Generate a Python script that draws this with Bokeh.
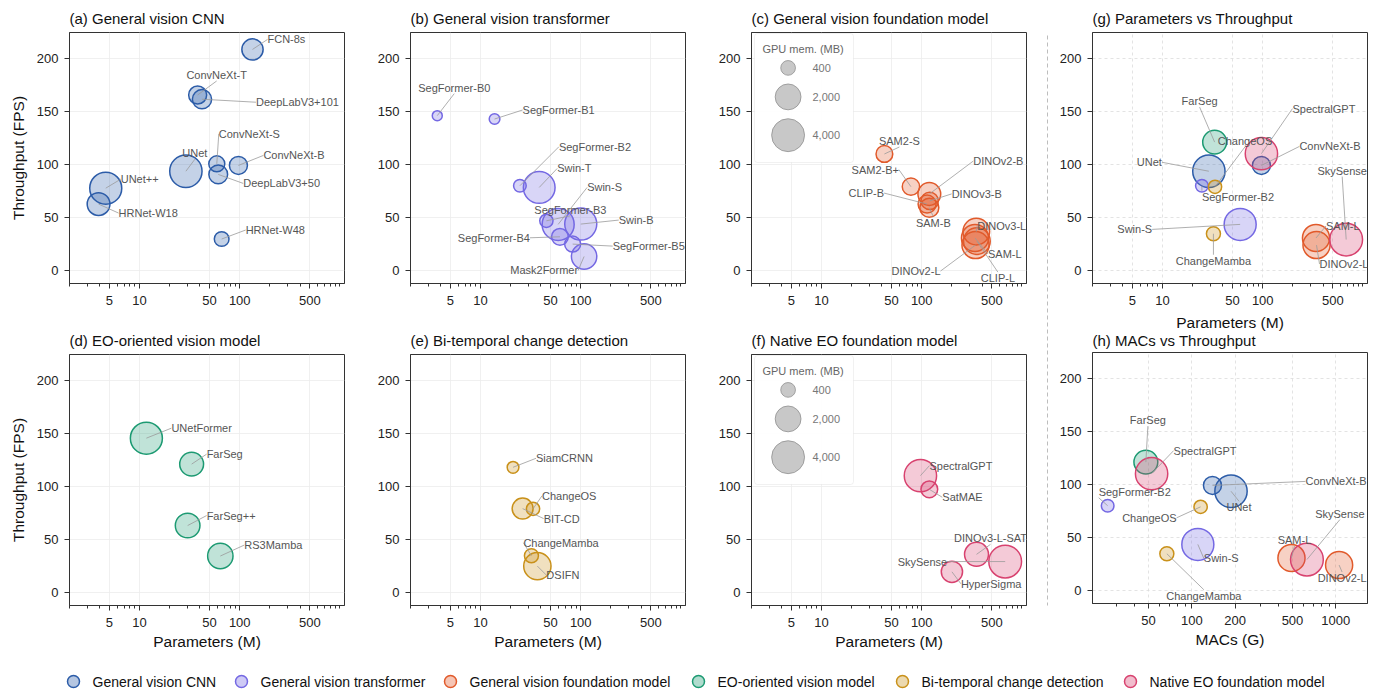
import numpy as np
from bokeh.plotting import figure
from bokeh.models import (ColumnDataSource, LabelSet, Label, Range1d, FixedTicker,
                          NumeralTickFormatter, BoxAnnotation)
from bokeh.layouts import row, column
from bokeh.embed import file_html
from bokeh.resources import INLINE
from bokeh.core.properties import value

FONT = "Liberation Sans"

# ---------------- data ----------------
CATEGORIES = ["General vision CNN", "General vision transformer", "General vision foundation model",
              "EO-oriented vision model", "Bi-temporal change detection", "Native EO foundation model"]
CAT_COLORS = ["#2c5ca8", "#7468e3", "#e15a2b", "#1c9a72", "#c9911a", "#d8426f"]

# (a) General vision CNN
CNN_NAMES = ["FCN-8s", "ConvNeXt-T", "DeepLabV3+101", "ConvNeXt-S", "ConvNeXt-B", "DeepLabV3+50",
             "UNet", "UNet++", "HRNet-W18", "HRNet-W48"]
CNN_PARAMS = [134, 38, 42, 59, 97, 61, 29, 4.6, 3.9, 66]
CNN_FPS = [209, 166, 162, 101, 99.5, 91, 94, 78, 63, 30]
CNN_MEM = [1150, 713, 860, 510, 713, 800, 3800, 3700, 1400, 400]

# (b) General vision transformer
TR_NAMES = ["SegFormer-B0", "SegFormer-B1", "SegFormer-B2", "Swin-T", "SegFormer-B3", "Swin-S",
            "Swin-B", "SegFormer-B4", "SegFormer-B5", "Mask2Former"]
TR_PARAMS = [3.7, 13.8, 24.7, 38.5, 45.4, 59.5, 100, 62, 83, 108]
TR_FPS = [146.5, 143.3, 80.3, 78.7, 47.2, 43.8, 44.1, 32.1, 25.2, 13.5]
TR_MEM = [133, 160, 260, 3600, 300, 3700, 3700, 580, 510, 1900]

# (c) General vision foundation model
FM_NAMES = ["SAM2-S", "SAM2-B+", "DINOv2-B", "CLIP-B", "DINOv3-B", "SAM-B",
            "DINOv3-L", "SAM-L", "DINOv2-L", "CLIP-L"]
FM_PARAMS = [42.4, 78, 119, 113, 120, 119, 350, 340, 344, 355]
FM_FPS = [110.3, 79.4, 72.5, 63, 66, 59.5, 37, 31, 24.3, 28]
FM_MEM = [580, 640, 1400, 713, 640, 830, 2200, 2300, 2300, 2200]

# (d) EO-oriented vision model
EO_NAMES = ["UNetFormer", "FarSeg", "FarSeg++", "RS3Mamba"]
EO_PARAMS = [11.7, 33.1, 30.2, 64]
EO_FPS = [146, 121.5, 63.5, 34.7]
EO_MEM = [3700, 1600, 1750, 1900]

# (e) Bi-temporal change detection
CD_NAMES = ["SiamCRNN", "BIT-CD", "ChangeOS", "ChangeMamba", "DSIFN"]
CD_PARAMS = [21.1, 26.3, 33.4, 32.2, 36.9]
CD_FPS = [118.5, 79.5, 79.3, 35, 25.2]
CD_MEM = [210, 1100, 300, 350, 2350]

# (f) Native EO foundation model
NEO_NAMES = ["SpectralGPT", "SatMAE", "DINOv3-L-SAT", "SkySense", "HyperSigma"]
NEO_PARAMS = [97, 119, 352, 680, 200]
NEO_FPS = [110.6, 97.7, 36.3, 29.5, 19.8]
NEO_MEM = [3800, 580, 1620, 3950, 1150]

# (g)/(h) selected models and their MACs (G)
SEL_NAMES = ["ConvNeXt-B", "UNet", "SegFormer-B2", "Swin-S", "SAM-L", "DINOv2-L",
             "FarSeg", "ChangeOS", "ChangeMamba", "SpectralGPT", "SkySense"]
SEL_MACS = [139, 187, 26, 110, 492, 1054, 47.9, 115, 67, 52.5, 630]

SIZE_LEGEND_MB = [400, 2000, 4000]

# ---------------- layout / style ----------------
FW, FH = 275, 251
Y_RANGE = (-12, 225)
Y_TICKS = [0, 50, 100, 150, 200]
P_RANGE = (2, 1110)
P_TICKS = [5, 10, 50, 100, 500]
P_MINOR = [2, 3, 4, 6, 7, 8, 9, 20, 30, 40, 60, 70, 80, 90, 200, 300, 400, 600, 700, 800, 900, 1000]
M_RANGE = (20.4, 1660)
M_TICKS = [50, 100, 200, 500, 1000]
M_MINOR = [20, 30, 40, 60, 70, 80, 90, 300, 400, 600, 700, 800, 900]

# label placement: (dx px, dy px, align, baseline) relative to bubble centre
LAB_A = [(15, -10, "l", "m"), (19, -14, "c", "b"), (54, 3, "l", "m"), (2, -30, "l", "m"),
         (25, -10, "l", "m"), (25, 9, "l", "m"), (9, -12, "c", "b"), (15, -9, "l", "m"),
         (20, 9, "l", "m"), (24, -9, "l", "m")]
LAB_B = [(17, -22, "c", "b"), (28, -9, "l", "m"), (39, -39, "l", "m"), (18, -19, "l", "m"),
         (24, -5, "c", "b"), (29, -37, "l", "m"), (38, -4, "l", "m"), (-30, 1, "r", "m"),
         (40, 2, "l", "m"), (-6, 14, "r", "m")]
LAB_C = [(15, -7, "c", "b"), (-12, -17, "r", "m"), (44, -33, "l", "m"), (-43, -11, "r", "m"),
         (22, -7, "l", "m"), (4, 9, "c", "t"), (1, -6, "l", "m"), (13, 16, "l", "m"),
         (-35, 26, "r", "m"), (21, 31, "c", "t")]
LAB_D = [(25, -10, "l", "m"), (15, -10, "l", "m"), (19, -10, "l", "m"), (24, -11, "l", "m")]
LAB_E = [(23, -9, "l", "m"), (21, 10, "l", "m"), (9, -13, "l", "m"), (-8, -13, "l", "m"),
         (9, 9, "l", "m")]
LAB_F = [(9, -10, "l", "m"), (13, 8, "l", "m"), (14, -10, "c", "b"), (-58, 0, "r", "m"),
         (9, 12, "l", "m")]
LAB_G = [(38, -19, "l", "m"), (-47, -9, "r", "m"), (0, 5, "l", "t"), (-88, 5, "r", "m"),
         (10, -12, "l", "m"), (3, 19, "l", "m"), (-15, -35, "c", "b"), (30, -40, "c", "b"),
         (0, 21, "c", "t"), (31, -45, "l", "m"), (-4, -63, "c", "b")]
LAB_H = [(93, -4, "l", "m"), (8, 10, "c", "t"), (-9, -8, "l", "b"), (6, 14, "l", "m"),
         (3, -12, "c", "b"), (3, 7, "c", "t"), (2, -36, "c", "b"), (-24, 11, "r", "m"),
         (37, 36, "c", "t"), (22, -23, "l", "m"), (33, -40, "c", "b")]

ALIGN = {"l": "left", "r": "right", "c": "center"}
BASE = {"m": "middle", "b": "bottom", "t": "top"}


def diam(mb):
    return 14.7 * (np.asarray(mb, dtype=float) / 400.0) ** 0.35


def off_x(x, dx, xr):
    l0, l1 = np.log10(xr[0]), np.log10(xr[1])
    return x * 10 ** (dx * (l1 - l0) / FW)


def off_y(y, dy):
    return y - dy * (Y_RANGE[1] - Y_RANGE[0]) / FH


def px_x(px, xr):
    l0, l1 = np.log10(xr[0]), np.log10(xr[1])
    return 10 ** (l0 + px / FW * (l1 - l0))


def px_y(py):
    return Y_RANGE[1] - py * (Y_RANGE[1] - Y_RANGE[0]) / FH


def style_title(t, standoff):
    t.text_font = FONT
    t.text_font_size = "15px"
    t.text_font_style = "normal"
    t.text_color = "#111111"
    t.align = "left"
    t.offset = 0
    t.standoff = standoff


def blank_fig(w, h, left=0, right=0):
    f = figure(frame_width=w, frame_height=h, x_range=Range1d(0, w), y_range=Range1d(h, 0),
               x_axis_type=None, y_axis_type=None, output_backend="svg", toolbar_location=None,
               min_border_left=left, min_border_right=right, min_border_top=0, min_border_bottom=0,
               outline_line_color=None, background_fill_color="white",
               border_fill_color="white", align="start")
    f.title = None
    f.grid.visible = False
    return f


def make_panel(title, xr, ticks, minor, xs, ys, mems, colors, names, labs,
               xlabel=None, ylabel=None, left=61, right=5, top=32, bottom=41,
               dashed=False, title_standoff=11, size_legend=False, xlabel_standoff=6):
    p = figure(frame_width=FW, frame_height=FH, x_axis_type="log",
               x_range=Range1d(*xr), y_range=Range1d(*Y_RANGE),
               output_backend="svg", toolbar_location=None,
               min_border_left=left, min_border_right=right,
               min_border_top=top, min_border_bottom=bottom, align="start",
               background_fill_color="white", border_fill_color="white", title=title or "")
    if title:
        style_title(p.title, title_standoff)
    else:
        p.title = None
    p.outline_line_color = "#333333"
    p.outline_line_width = 1
    p.outline_line_alpha = 1
    p.xaxis.ticker = FixedTicker(ticks=ticks, minor_ticks=minor)
    p.xaxis.formatter = NumeralTickFormatter(format="0")
    p.yaxis.ticker = FixedTicker(ticks=Y_TICKS, minor_ticks=[])
    for ax in (p.xaxis[0], p.yaxis[0]):
        ax.axis_line_color = "#333333"
        ax.major_tick_line_color = "#333333"
        ax.major_tick_out = 5
        ax.major_tick_in = 0
        ax.minor_tick_line_color = "#333333"
        ax.minor_tick_out = 3
        ax.minor_tick_in = 0
        ax.major_label_text_font = FONT
        ax.major_label_text_font_size = "13px"
        ax.major_label_text_color = "#222222"
        ax.axis_label_text_font = FONT
        ax.axis_label_text_font_size = "15.5px"
        ax.axis_label_text_font_style = "normal"
        ax.axis_label_text_color = "#111111"
    p.yaxis.minor_tick_line_color = None
    p.xaxis.major_label_standoff = 7
    p.yaxis.major_label_standoff = 6
    p.xaxis.axis_label_standoff = xlabel_standoff
    p.yaxis.axis_label_standoff = 7
    if xlabel:
        p.xaxis.axis_label = xlabel
    if ylabel:
        p.yaxis.axis_label = ylabel
    for g in (p.xgrid[0], p.ygrid[0]):
        if dashed:
            g.grid_line_color = "#dcdcdc"
            g.grid_line_dash = "3 3"
        else:
            g.grid_line_color = "#ececec"
        g.grid_line_width = 0.8

    if size_legend:
        p.add_layout(BoxAnnotation(left=px_x(3, xr), right=px_x(102, xr), top=px_y(1), bottom=px_y(130),
                                   fill_color="white", fill_alpha=0.9, line_color="#cfcfcf",
                                   line_width=1, border_radius=3, level="underlay"))
        ly = [px_y(v) for v in (35.4, 64.4, 102.7)]
        p.scatter([px_x(36.6, xr)] * 3, ly, size=diam(SIZE_LEGEND_MB), fill_color="#c8c8c8",
                  fill_alpha=1, line_color="#8f8f8f", line_width=0.8)
        p.add_layout(Label(x=px_x(51.6, xr), y=px_y(16), text="GPU mem. (MB)", text_align="center",
                           text_baseline="middle", text_font=FONT, text_font_size="11px",
                           text_color="#666666"))
        for v, yy in zip(SIZE_LEGEND_MB, ly):
            p.add_layout(Label(x=px_x(61, xr), y=yy, text=f"{v:,}", text_align="left",
                               text_baseline="middle", text_font=FONT, text_font_size="11px",
                               text_color="#777777"))

    src = ColumnDataSource(dict(x=list(xs), y=list(ys), s=list(diam(mems)), c=list(colors)))
    p.scatter("x", "y", size="s", source=src, fill_color="c", line_color="c",
              fill_alpha=0.28, line_width=1.5)

    x0, y0, x1, y1 = [], [], [], []
    groups = {}
    for i, (dx, dy, al, bl) in enumerate(labs):
        lx = off_x(xs[i], dx, xr)
        ly2 = off_y(ys[i], dy)
        x0.append(xs[i]); y0.append(ys[i]); x1.append(lx); y1.append(ly2)
        g = groups.setdefault((al, bl), {"x": [], "y": [], "t": []})
        g["x"].append(lx); g["y"].append(ly2); g["t"].append(names[i])
    p.segment(x0, y0, x1, y1, line_color="#9a9a9a", line_width=0.8)
    for (al, bl), g in groups.items():
        p.add_layout(LabelSet(x="x", y="y", text="t", source=ColumnDataSource(g),
                              text_align=ALIGN[al], text_baseline=BASE[bl],
                              text_font=value(FONT), text_font_size=value("11px"),
                              text_color="#555555"))
    return p


ALL = {}
for cat, (nm, pa, fp, me) in enumerate([(CNN_NAMES, CNN_PARAMS, CNN_FPS, CNN_MEM),
                                         (TR_NAMES, TR_PARAMS, TR_FPS, TR_MEM),
                                         (FM_NAMES, FM_PARAMS, FM_FPS, FM_MEM),
                                         (EO_NAMES, EO_PARAMS, EO_FPS, EO_MEM),
                                         (CD_NAMES, CD_PARAMS, CD_FPS, CD_MEM),
                                         (NEO_NAMES, NEO_PARAMS, NEO_FPS, NEO_MEM)]):
    for n, a, f, m in zip(nm, pa, fp, me):
        ALL[n] = (a, f, m, cat)

SEL_PARAMS = [ALL[n][0] for n in SEL_NAMES]
SEL_FPS = [ALL[n][1] for n in SEL_NAMES]
SEL_MEM = [ALL[n][2] for n in SEL_NAMES]
SEL_COL = [CAT_COLORS[ALL[n][3]] for n in SEL_NAMES]

pa = make_panel("(a) General vision CNN", P_RANGE, P_TICKS, P_MINOR, CNN_PARAMS, CNN_FPS, CNN_MEM,
                [CAT_COLORS[0]] * len(CNN_NAMES), CNN_NAMES, LAB_A, ylabel="Throughput (FPS)", left=69)
pb = make_panel("(b) General vision transformer", P_RANGE, P_TICKS, P_MINOR, TR_PARAMS, TR_FPS, TR_MEM,
                [CAT_COLORS[1]] * len(TR_NAMES), TR_NAMES, LAB_B)
pc = make_panel("(c) General vision foundation model", P_RANGE, P_TICKS, P_MINOR, FM_PARAMS, FM_FPS, FM_MEM,
                [CAT_COLORS[2]] * len(FM_NAMES), FM_NAMES, LAB_C, size_legend=True)
pd_ = make_panel("(d) EO-oriented vision model", P_RANGE, P_TICKS, P_MINOR, EO_PARAMS, EO_FPS, EO_MEM,
                 [CAT_COLORS[3]] * len(EO_NAMES), EO_NAMES, LAB_D, xlabel="Parameters (M)",
                 ylabel="Throughput (FPS)", left=69, top=28, bottom=48, xlabel_standoff=3)
pe = make_panel("(e) Bi-temporal change detection", P_RANGE, P_TICKS, P_MINOR, CD_PARAMS, CD_FPS, CD_MEM,
                [CAT_COLORS[4]] * len(CD_NAMES), CD_NAMES, LAB_E, xlabel="Parameters (M)", top=28, bottom=48,
                xlabel_standoff=3)
pf = make_panel("(f) Native EO foundation model", P_RANGE, P_TICKS, P_MINOR, NEO_PARAMS, NEO_FPS, NEO_MEM,
                [CAT_COLORS[5]] * len(NEO_NAMES), NEO_NAMES, LAB_F, xlabel="Parameters (M)", top=28, bottom=48,
                size_legend=True, xlabel_standoff=3)
pg = make_panel("(g) Parameters vs Throughput", P_RANGE, P_TICKS, P_MINOR, SEL_PARAMS, SEL_FPS, SEL_MEM,
                SEL_COL, SEL_NAMES, LAB_G, xlabel="Parameters (M)", left=40, right=3, top=32, bottom=0,
                dashed=True)
# title strip of panel (h): same frame geometry as (h), tight under (g)'s axis label
HT_H = 19
ht = blank_fig(FW, HT_H, left=40, right=3)
ht.text([0], [6.5], text=["(h) MACs vs Throughput"], text_font=value(FONT),
        text_font_size=value("15px"), text_color="#111111", text_baseline="middle", text_align="left")
ph = make_panel(None, M_RANGE, M_TICKS, M_MINOR, SEL_MACS, SEL_FPS, SEL_MEM,
                SEL_COL, SEL_NAMES, LAB_H, xlabel="MACs (G)", left=40, right=3, top=0, bottom=48,
                dashed=True, xlabel_standoff=3)

# dashed separator
SP_W, SP_H = 21, 651
sp = blank_fig(SP_W, SP_H)
sp.segment([16], [35], [16], [605], line_color="#bdbdbd", line_width=1, line_dash="4 3")

# category legend
LEG_W, LEG_H = 1370, 36
LEG_X = [73, 241, 450, 698, 902, 1130]
lg = blank_fig(LEG_W, LEG_H)
lg.scatter(LEG_X, [28] * 6, size=12, fill_color=CAT_COLORS, fill_alpha=0.35,
           line_color=CAT_COLORS, line_width=1.5)
lg.text([x + 19 for x in LEG_X], [28] * 6, text=CATEGORIES, text_font=value(FONT),
        text_font_size=value("14px"), text_color="#111111", text_baseline="middle", text_align="left")

right_col = column(pg, ht, ph, align="start")
layout = column(row(column(row(pa, pb, pc), row(pd_, pe, pf)), sp, right_col), lg)

html = file_html(layout, INLINE, title="Throughput vs parameters")
open("out.html", "w").write(html)
